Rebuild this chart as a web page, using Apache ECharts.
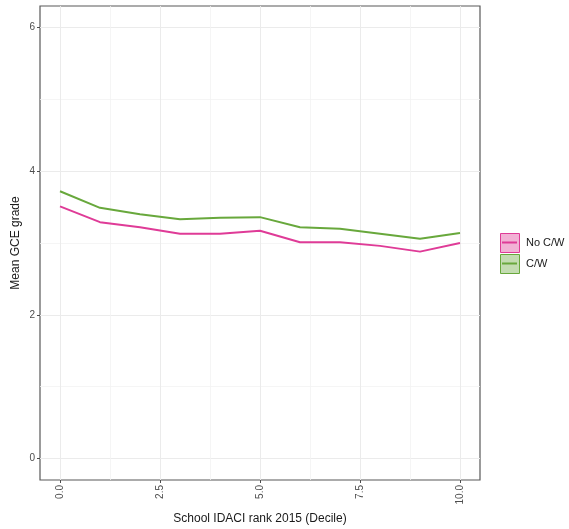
<!DOCTYPE html>
<html>
<head>
<meta charset="utf-8">
<script src="https://cdn.jsdelivr.net/npm/echarts@6/dist/echarts.min.js"></script>
<style>
  html, body { margin: 0; padding: 0; background: #fff; }
  #chart { width: 569px; height: 529px; }
</style>
</head>
<body>
<div id="chart"></div>
<script>
// School IDACI decile (x) against mean GCE grade, with and without coursework
const deciles = [0, 1, 2, 3, 4, 5, 6, 7, 8, 9, 10];
const noCW = [3.51, 3.29, 3.22, 3.13, 3.13, 3.17, 3.01, 3.01, 2.96, 2.88, 3.00];
const withCW = [3.72, 3.49, 3.40, 3.33, 3.35, 3.36, 3.22, 3.20, 3.13, 3.06, 3.14];
const seriesNames = ['No C/W', 'C/W'];

const xMajor = [0, 2.5, 5, 7.5, 10];
const xMinor = [1.25, 3.75, 6.25, 8.75];
const yMajor = [0, 2, 4, 6];
const yMinor = [1, 3, 5];

const PINK = '#df3b97';
const GREEN = '#68a83c';
const FONT = '"Liberation Sans", Arial, sans-serif';

const gridLine = { show: true, lineStyle: { color: '#ebebeb', width: 1 } };
const minorLine = { show: true, lineStyle: { color: '#f3f3f3', width: 0.8 } };
const hiddenLine = { show: false, onZero: false };

const chart = echarts.init(document.getElementById('chart'), null, { renderer: 'canvas' });

const pairs = (ys) => deciles.map((d, i) => [d, ys[i]]);

function legendKey(y, color, fill, label) {
  return [
    { type: 'rect', left: 500, top: y, shape: { width: 19, height: 19 },
      style: { fill: fill, stroke: color, lineWidth: 1 }, z: 10 },
    { type: 'line', shape: { x1: 502, y1: y + 9.5, x2: 517, y2: y + 9.5 },
      style: { stroke: color, lineWidth: 2 }, z: 11 },
    { type: 'text', left: 526, top: y + 4,
      style: { text: label, fill: '#1a1a1a', font: '11px ' + FONT }, z: 11 }
  ];
}

chart.setOption({
  backgroundColor: '#ffffff',
  animation: false,
  textStyle: { fontFamily: FONT },
  grid: {
    left: 40, right: 89, top: 6, bottom: 49,
    outerBoundsMode: 'none', containLabel: false,
    show: true, borderColor: '#595959', borderWidth: 1.2, backgroundColor: '#fff'
  },
  xAxis: [
    {
      type: 'value', min: -0.5, max: 10.5, position: 'bottom',
      name: 'School IDACI rank 2015 (Decile)', nameLocation: 'middle', nameGap: 30,
      nameTextStyle: { color: '#1a1a1a', fontSize: 12, fontFamily: FONT },
      axisLine: hiddenLine,
      axisTick: { show: true, length: 3, customValues: xMajor, lineStyle: { color: '#4d4d4d' } },
      axisLabel: { customValues: xMajor, rotate: 90, margin: 5, color: '#4d4d4d', fontSize: 10,
        fontFamily: FONT, formatter: (v) => v.toFixed(1) },
      splitLine: gridLine
    },
    {
      type: 'value', min: -0.5, max: 10.5, position: 'bottom',
      axisLine: hiddenLine,
      axisTick: { show: false, customValues: xMinor },
      axisLabel: { show: false, customValues: xMinor },
      splitLine: minorLine
    }
  ],
  yAxis: [
    {
      type: 'value', min: -0.3, max: 6.3, position: 'left',
      name: 'Mean GCE grade', nameLocation: 'middle', nameGap: 18, nameRotate: 90,
      nameMoveOverlap: false,
      nameTextStyle: { color: '#1a1a1a', fontSize: 12, fontFamily: FONT },
      axisLine: hiddenLine,
      axisTick: { show: true, length: 3, customValues: yMajor, lineStyle: { color: '#4d4d4d' } },
      axisLabel: { customValues: yMajor, margin: 5, color: '#4d4d4d', fontSize: 10, fontFamily: FONT },
      splitLine: gridLine
    },
    {
      type: 'value', min: -0.3, max: 6.3, position: 'left',
      axisLine: hiddenLine,
      axisTick: { show: false, customValues: yMinor },
      axisLabel: { show: false, customValues: yMinor },
      splitLine: minorLine
    }
  ],
  series: [
    { name: seriesNames[0], type: 'line', data: pairs(noCW), symbol: 'none',
      lineStyle: { color: PINK, width: 2 }, itemStyle: { color: PINK }, z: 3 },
    { name: seriesNames[1], type: 'line', data: pairs(withCW), symbol: 'none',
      lineStyle: { color: GREEN, width: 2 }, itemStyle: { color: GREEN }, z: 3 }
  ],
  graphic: [].concat(
    legendKey(233, PINK, 'rgba(223,59,151,0.4)', seriesNames[0]),
    legendKey(254, GREEN, 'rgba(104,168,60,0.4)', seriesNames[1])
  )
});
</script>
</body>
</html>
